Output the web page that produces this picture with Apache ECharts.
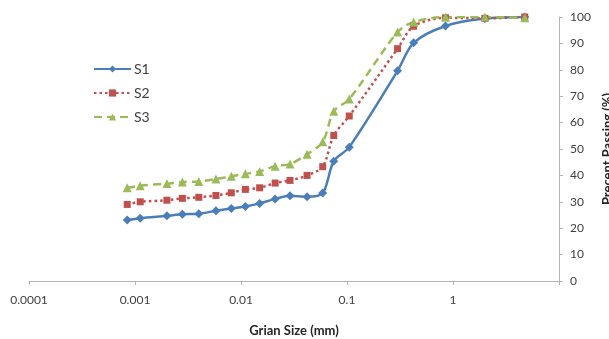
<!DOCTYPE html>
<html>
<head>
<meta charset="utf-8">
<script src="https://cdn.jsdelivr.net/npm/echarts@6/dist/echarts.min.js"></script>
<style>
  html, body { margin: 0; padding: 0; background: #fff; }
  #main { width: 609px; height: 339px; }
</style>
</head>
<body>
<div id="main"></div>
<script>
// grain size (mm) for each point
var sizes = [0.000845, 0.00112, 0.002, 0.0028, 0.0040, 0.0058, 0.0081, 0.011, 0.015, 0.021,
  0.029, 0.042, 0.059, 0.075, 0.105, 0.3, 0.425, 0.85, 2.0, 4.75];

// percent passing
var s1 = [23.1, 23.8, 24.7, 25.3, 25.5, 26.6, 27.5, 28.2, 29.4, 31.1,
  32.3, 31.9, 33.3, 45.4, 50.7, 79.6, 90.2, 96.6, 99.4, 100];
var s2 = [29.0, 30.0, 30.6, 31.3, 31.7, 32.4, 33.4, 34.7, 35.3, 37.1,
  38.1, 40.0, 43.3, 55.1, 62.5, 88.0, 96.5, 99.7, 99.5, 100];
var s3 = [35.3, 36.1, 36.9, 37.5, 37.7, 38.6, 39.7, 40.6, 41.5, 43.5,
  44.3, 48.0, 52.7, 64.3, 68.9, 94.3, 98.1, 100, 100, 99.7];

var xTicks = ['0.0001', '0.001', '0.01', '0.1', '1'];

function pairs(ys) {
  var out = [];
  for (var i = 0; i < sizes.length; i++) {
    out.push([sizes[i], ys[i]]);
  }
  return out;
}

var chart = echarts.init(document.getElementById('main'));
var font = 'Lato, "Liberation Sans", sans-serif';

var option = {
  backgroundColor: '#ffffff',
  animation: false,
  textStyle: { fontFamily: font },
  grid: {
    left: 29,
    right: 50,
    top: 17,
    bottom: 58,
    outerBoundsMode: 'none'
  },
  legend: {
    orient: 'vertical',
    left: 88,
    top: 57,
    itemWidth: 37,
    itemHeight: 9,
    itemGap: 10,
    textStyle: { fontSize: 14, color: '#404040', fontFamily: font, padding: [0, 0, 0, -2] },
    data: ['S1', 'S2', 'S3']
  },
  xAxis: {
    type: 'log',
    logBase: 10,
    min: 0.0001,
    max: 10,
    name: 'Grian Size (mm)',
    nameLocation: 'middle',
    nameGap: 43,
    nameTextStyle: { fontSize: 13, fontWeight: 'bold', color: '#262626' },
    axisLine: { lineStyle: { color: '#b3b3b3', width: 1 } },
    axisTick: { show: true, length: 4, inside: false, lineStyle: { color: '#b3b3b3' } },
    splitLine: { show: false },
    axisLabel: {
      fontSize: 12,
      color: '#404040',
      margin: 13,
      formatter: function (v) {
        var s = String(Number(v.toPrecision(1)));
        return xTicks.indexOf(s) >= 0 ? s : '';
      }
    }
  },
  yAxis: {
    type: 'value',
    position: 'right',
    min: 0,
    max: 100,
    interval: 10,
    name: 'Precent Passing (%)',
    nameLocation: 'middle',
    nameRotate: 90,
    nameGap: 38,
    nameTextStyle: { fontSize: 13, fontWeight: 'bold', color: '#262626' },
    axisLine: { show: true, lineStyle: { color: '#b3b3b3', width: 1 } },
    axisTick: { show: true, length: 4, lineStyle: { color: '#b3b3b3' } },
    splitLine: { show: false },
    axisLabel: { fontSize: 12, color: '#404040', margin: 11 }
  },
  series: [
    {
      name: 'S1',
      type: 'line',
      data: pairs(s1),
      smooth: 0.3,
      symbol: 'diamond',
      symbolSize: 9,
      itemStyle: { color: '#4a7ebb' },
      lineStyle: { color: '#4a7ebb', width: 2.5, type: 'solid' }
    },
    {
      name: 'S2',
      type: 'line',
      data: pairs(s2),
      smooth: 0.3,
      symbol: 'rect',
      symbolSize: 7,
      itemStyle: { color: '#c0504d' },
      lineStyle: { color: '#c0504d', width: 2.5, type: [2.5, 3] }
    },
    {
      name: 'S3',
      type: 'line',
      data: pairs(s3),
      smooth: 0.3,
      symbol: 'triangle',
      symbolSize: 9,
      itemStyle: { color: '#9bbb59' },
      lineStyle: { color: '#9bbb59', width: 2.5, type: [8, 5] }
    }
  ]
};

chart.setOption(option);
</script>
</body>
</html>
